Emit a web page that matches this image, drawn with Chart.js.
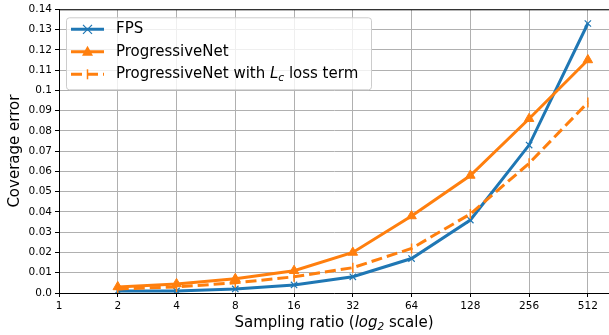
<!DOCTYPE html>
<html>
<head>
<meta charset="utf-8">
<script src="https://cdn.jsdelivr.net/npm/chart.js@4"></script>
<style>
  html, body { margin: 0; padding: 0; background: #fff; }
</style>
</head>
<body>
<canvas id="coverageChart" width="609" height="335"></canvas>
<script>
// Sampling ratios (x, log2 scale)
const ratios = [2, 4, 8, 16, 32, 64, 128, 256, 512];
// Coverage error per method
const fpsErr = [0.001, 0.001, 0.002, 0.004, 0.008, 0.017, 0.036, 0.073, 0.133];
const progErr = [0.003, 0.0045, 0.007, 0.011, 0.020, 0.038, 0.058, 0.086, 0.115];
const progLcErr = [0.002, 0.003, 0.005, 0.008, 0.0125, 0.022, 0.039, 0.064, 0.094];
// Tick labels
const xTicks = [1, 2, 4, 8, 16, 32, 64, 128, 256, 512];
const yTicks = [0, 0.01, 0.02, 0.03, 0.04, 0.05, 0.06, 0.07, 0.08, 0.09, 0.10, 0.11, 0.12, 0.13, 0.14];

const BLUE = '#1f77b4';
const ORANGE = '#ff7f0e';
const FONT = 'DejaVu Sans';

const toPoints = (ys) => ratios.map((r, i) => ({ x: r, y: ys[i] }));

// Top spine + legend inside plot + x title with italic part
const extrasPlugin = {
    id: 'extras',
    afterDraw(chart) {
        const ctx = chart.ctx;
        const area = chart.chartArea;
        ctx.save();
        // top spine
        ctx.strokeStyle = '#000';
        ctx.lineWidth = 1;
        ctx.beginPath();
        ctx.moveTo(area.left, area.top + 0.5);
        ctx.lineTo(area.right, area.top + 0.5);
        ctx.stroke();

        // legend box
        const bx = area.left + 7, by = area.top + 8, bw = 305, bh = 72;
        ctx.fillStyle = 'rgba(255,255,255,0.8)';
        ctx.strokeStyle = '#cccccc';
        ctx.beginPath();
        ctx.roundRect(bx + 0.5, by + 0.5, bw, bh, 3);
        ctx.fill();
        ctx.stroke();

        const rows = [by + 12, by + 34.5, by + 57];
        const lx0 = bx + 5, lx1 = bx + 38, tx = bx + 50;
        const mx = (lx0 + lx1) / 2;

        // FPS
        ctx.lineWidth = 3;
        ctx.strokeStyle = BLUE;
        ctx.setLineDash([]);
        ctx.beginPath(); ctx.moveTo(lx0, rows[0]); ctx.lineTo(lx1, rows[0]); ctx.stroke();
        ctx.lineWidth = 1.2;
        ctx.beginPath();
        ctx.moveTo(mx - 4.5, rows[0] - 4.5); ctx.lineTo(mx + 4.5, rows[0] + 4.5);
        ctx.moveTo(mx + 4.5, rows[0] - 4.5); ctx.lineTo(mx - 4.5, rows[0] + 4.5);
        ctx.stroke();

        // ProgressiveNet
        ctx.lineWidth = 3;
        ctx.strokeStyle = ORANGE;
        ctx.fillStyle = ORANGE;
        ctx.beginPath(); ctx.moveTo(lx0, rows[1]); ctx.lineTo(lx1, rows[1]); ctx.stroke();
        ctx.beginPath();
        ctx.moveTo(mx, rows[1] - 6); ctx.lineTo(mx + 5.5, rows[1] + 4); ctx.lineTo(mx - 5.5, rows[1] + 4);
        ctx.closePath(); ctx.fill();

        // ProgressiveNet with Lc
        ctx.setLineDash([11, 5]);
        ctx.beginPath(); ctx.moveTo(lx0, rows[2]); ctx.lineTo(lx1, rows[2]); ctx.stroke();
        ctx.setLineDash([]);
        ctx.lineWidth = 1.5;
        ctx.beginPath(); ctx.moveTo(mx, rows[2] - 5); ctx.lineTo(mx, rows[2] + 5); ctx.stroke();

        // legend texts
        ctx.fillStyle = '#000';
        ctx.textBaseline = 'middle';
        ctx.textAlign = 'left';
        ctx.font = '15px "' + FONT + '"';
        ctx.fillText('FPS', tx, rows[0]);
        ctx.fillText('ProgressiveNet', tx, rows[1]);
        let x = tx;
        const p1 = 'ProgressiveNet with ';
        ctx.fillText(p1, x, rows[2]); x += ctx.measureText(p1).width;
        ctx.font = 'italic 15px "' + FONT + '"';
        ctx.fillText('L', x, rows[2]); x += ctx.measureText('L').width;
        ctx.font = 'italic 10.5px "' + FONT + '"';
        ctx.fillText('c', x, rows[2] + 4); x += ctx.measureText('c').width;
        ctx.font = '15px "' + FONT + '"';
        ctx.fillText(' loss term', x, rows[2]);

        // x axis title: Sampling ratio (log2 scale)
        const ty = chart.height - 12;
        const parts = [
            ['Sampling ratio (', '15px', 0],
            ['log', 'italic 15px', 0],
            ['2', 'italic 10.5px', 4],
            [' scale)', '15px', 0]
        ];
        let total = 0;
        parts.forEach(p => { ctx.font = p[1] + ' "' + FONT + '"'; total += ctx.measureText(p[0]).width; });
        x = 334 - total / 2;
        parts.forEach(p => {
            ctx.font = p[1] + ' "' + FONT + '"';
            ctx.fillText(p[0], x, ty + p[2]);
            x += ctx.measureText(p[0]).width;
        });
        ctx.restore();
    }
};

const ctx = document.getElementById('coverageChart').getContext('2d');
new Chart(ctx, {
    type: 'line',
    data: {
        datasets: [
            {
                label: 'FPS',
                data: toPoints(fpsErr),
                borderColor: BLUE,
                backgroundColor: BLUE,
                borderWidth: 3,
                pointStyle: 'crossRot',
                pointRadius: 4.5,
                pointBorderWidth: 1.2,
                order: 3,
            },
            {
                label: 'ProgressiveNet',
                data: toPoints(progErr),
                borderColor: ORANGE,
                backgroundColor: ORANGE,
                borderWidth: 3,
                pointStyle: 'triangle',
                pointRadius: 5.5,
                pointBorderWidth: 1,
                order: 2,
            },
            {
                label: 'ProgressiveNet with Lc loss term',
                data: toPoints(progLcErr),
                borderColor: ORANGE,
                backgroundColor: ORANGE,
                borderWidth: 3,
                borderDash: [11, 5],
                pointStyle: 'line',
                pointRotation: 90,
                pointRadius: 5,
                pointBorderWidth: 1.5,
                order: 1,
            },
        ],
    },
    options: {
        responsive: false,
        animation: false,
        layout: { autoPadding: false, padding: { top: 8, right: 0, left: 0, bottom: 0 } },
        plugins: {
            legend: { display: false },
            tooltip: { enabled: false },
        },
        scales: {
            x: {
                type: 'logarithmic',
                min: 1,
                max: 657,
                afterBuildTicks: (scale) => { scale.ticks = xTicks.map(v => ({ value: v })); },
                afterFit: (scale) => { scale.height = 42; },
                ticks: {
                    autoSkip: false,
                    maxRotation: 0,
                    color: '#000',
                    padding: 3,
                    font: { family: FONT, size: 10.5 },
                    callback: (v) => String(v),
                },
                grid: { color: '#b0b0b0', lineWidth: 1, tickColor: '#000', tickLength: 4 },
                border: { color: '#000', width: 1 },
            },
            y: {
                min: 0,
                max: 0.14,
                afterBuildTicks: (scale) => { scale.ticks = yTicks.map(v => ({ value: v })); },
                afterFit: (scale) => { scale.width = 59; },
                ticks: {
                    autoSkip: false,
                    color: '#000',
                    padding: 3,
                    font: { family: FONT, size: 10.5 },
                    callback: (v) => v === 0 ? '0.0' : String(Number(v.toFixed(2))),
                },
                title: {
                    display: true,
                    text: 'Coverage error',
                    color: '#000',
                    font: { family: FONT, size: 15 },
                    padding: { top: 6, bottom: 0 },
                },
                grid: { color: '#b0b0b0', lineWidth: 1, tickColor: '#000', tickLength: 4 },
                border: { color: '#000', width: 1 },
            },
        },
    },
    plugins: [extrasPlugin],
});
</script>
</body>
</html>
